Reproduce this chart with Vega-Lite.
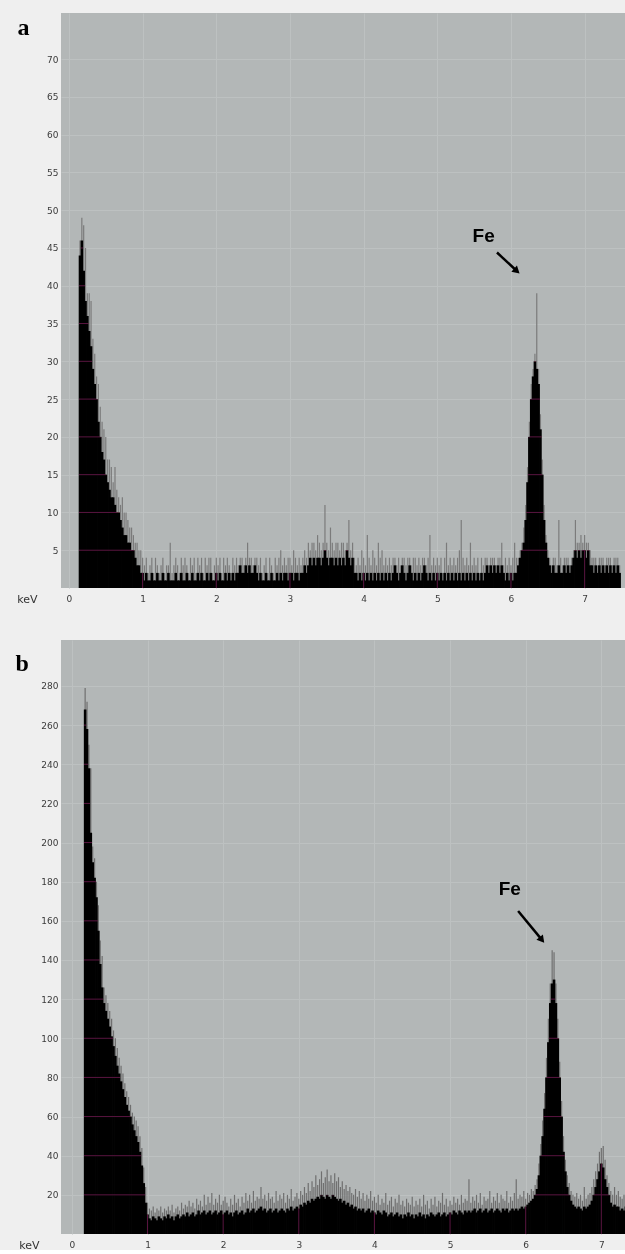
{
"$schema":"https://vega.github.io/schema/vega-lite/v6.json",
"background":"#efefef",
"padding":{"left":15,"top":12,"right":0,"bottom":0},
"autosize":{"type":"pad"},
"spacing":35,
"datasets":{
"spec":[
{"e":0.15,"al":44,"ah":46,"bl":0,"bh":0},
{"e":0.175,"al":46,"ah":49,"bl":268,"bh":279},
{"e":0.2,"al":42,"ah":48,"bl":258,"bh":272},
{"e":0.225,"al":38,"ah":45,"bl":238,"bh":250},
{"e":0.25,"al":36,"ah":39,"bl":205,"bh":238},
{"e":0.275,"al":34,"ah":39,"bl":190,"bh":198},
{"e":0.3,"al":32,"ah":38,"bl":182,"bh":192},
{"e":0.325,"al":29,"ah":33,"bl":172,"bh":180},
{"e":0.35,"al":27,"ah":31,"bl":155,"bh":168},
{"e":0.375,"al":25,"ah":28,"bl":138,"bh":150},
{"e":0.4,"al":22,"ah":27,"bl":126,"bh":142},
{"e":0.425,"al":20,"ah":24,"bl":118,"bh":126},
{"e":0.45,"al":18,"ah":22,"bl":114,"bh":122},
{"e":0.475,"al":17,"ah":21,"bl":110,"bh":118},
{"e":0.5,"al":15,"ah":20,"bl":106,"bh":114},
{"e":0.525,"al":14,"ah":17,"bl":101,"bh":110},
{"e":0.55,"al":13,"ah":17,"bl":96,"bh":104},
{"e":0.575,"al":12,"ah":16,"bl":91,"bh":100},
{"e":0.6,"al":12,"ah":14,"bl":86,"bh":95},
{"e":0.625,"al":11,"ah":16,"bl":82,"bh":90},
{"e":0.65,"al":10,"ah":13,"bl":78,"bh":86},
{"e":0.675,"al":10,"ah":12,"bl":74,"bh":82},
{"e":0.7,"al":9,"ah":11,"bl":70,"bh":77},
{"e":0.725,"al":8,"ah":12,"bl":66,"bh":73},
{"e":0.75,"al":7,"ah":10,"bl":63,"bh":70},
{"e":0.775,"al":7,"ah":10,"bl":60,"bh":66},
{"e":0.8,"al":6,"ah":9,"bl":56,"bh":62},
{"e":0.825,"al":6,"ah":8,"bl":53,"bh":60},
{"e":0.85,"al":5,"ah":8,"bl":50,"bh":58},
{"e":0.875,"al":5,"ah":7,"bl":47,"bh":55},
{"e":0.9,"al":4,"ah":6,"bl":42,"bh":50},
{"e":0.925,"al":3,"ah":6,"bl":35,"bh":44},
{"e":0.95,"al":3,"ah":5,"bl":26,"bh":34},
{"e":0.975,"al":2,"ah":5,"bl":16,"bh":24},
{"e":1.0,"al":2,"ah":4,"bl":10,"bh":16},
{"e":1.025,"al":1,"ah":3,"bl":8,"bh":13},
{"e":1.05,"al":2,"ah":4,"bl":7,"bh":12},
{"e":1.075,"al":1,"ah":2,"bl":9,"bh":14},
{"e":1.1,"al":1,"ah":3,"bl":8,"bh":11},
{"e":1.125,"al":2,"ah":4,"bl":7,"bh":13},
{"e":1.15,"al":1,"ah":2,"bl":9,"bh":12},
{"e":1.175,"al":1,"ah":4,"bl":8,"bh":14},
{"e":1.2,"al":2,"ah":3,"bl":7,"bh":11},
{"e":1.225,"al":1,"ah":2,"bl":9,"bh":13},
{"e":1.25,"al":1,"ah":3,"bl":8,"bh":12},
{"e":1.275,"al":2,"ah":4,"bl":10,"bh":14},
{"e":1.3,"al":1,"ah":2,"bl":8,"bh":12},
{"e":1.325,"al":1,"ah":3,"bl":9,"bh":15},
{"e":1.35,"al":2,"ah":3,"bl":7,"bh":11},
{"e":1.375,"al":1,"ah":6,"bl":9,"bh":13},
{"e":1.4,"al":1,"ah":2,"bl":10,"bh":14},
{"e":1.425,"al":1,"ah":3,"bl":8,"bh":12},
{"e":1.45,"al":2,"ah":4,"bl":9,"bh":16},
{"e":1.475,"al":1,"ah":3,"bl":10,"bh":13},
{"e":1.5,"al":1,"ah":2,"bl":9,"bh":15},
{"e":1.525,"al":2,"ah":4,"bl":11,"bh":14},
{"e":1.55,"al":1,"ah":3,"bl":9,"bh":17},
{"e":1.575,"al":1,"ah":4,"bl":10,"bh":14},
{"e":1.6,"al":2,"ah":3,"bl":11,"bh":16},
{"e":1.625,"al":1,"ah":2,"bl":9,"bh":13},
{"e":1.65,"al":1,"ah":4,"bl":10,"bh":18},
{"e":1.675,"al":2,"ah":3,"bl":12,"bh":15},
{"e":1.7,"al":1,"ah":4,"bl":10,"bh":17},
{"e":1.725,"al":1,"ah":2,"bl":11,"bh":14},
{"e":1.75,"al":2,"ah":4,"bl":12,"bh":20},
{"e":1.775,"al":1,"ah":3,"bl":10,"bh":15},
{"e":1.8,"al":2,"ah":4,"bl":11,"bh":19},
{"e":1.825,"al":1,"ah":2,"bl":12,"bh":16},
{"e":1.85,"al":1,"ah":4,"bl":10,"bh":21},
{"e":1.875,"al":2,"ah":3,"bl":11,"bh":15},
{"e":1.9,"al":1,"ah":4,"bl":12,"bh":18},
{"e":1.925,"al":2,"ah":4,"bl":10,"bh":16},
{"e":1.95,"al":1,"ah":2,"bl":11,"bh":20},
{"e":1.975,"al":1,"ah":3,"bl":12,"bh":15},
{"e":2.0,"al":2,"ah":4,"bl":10,"bh":17},
{"e":2.025,"al":1,"ah":3,"bl":11,"bh":19},
{"e":2.05,"al":2,"ah":4,"bl":12,"bh":16},
{"e":2.075,"al":1,"ah":2,"bl":10,"bh":14},
{"e":2.1,"al":1,"ah":4,"bl":11,"bh":18},
{"e":2.125,"al":2,"ah":3,"bl":9,"bh":15},
{"e":2.15,"al":1,"ah":4,"bl":11,"bh":20},
{"e":2.175,"al":2,"ah":3,"bl":12,"bh":16},
{"e":2.2,"al":1,"ah":2,"bl":10,"bh":18},
{"e":2.225,"al":2,"ah":4,"bl":11,"bh":14},
{"e":2.25,"al":1,"ah":3,"bl":12,"bh":19},
{"e":2.275,"al":2,"ah":4,"bl":10,"bh":16},
{"e":2.3,"al":2,"ah":3,"bl":11,"bh":21},
{"e":2.325,"al":3,"ah":4,"bl":13,"bh":17},
{"e":2.35,"al":2,"ah":4,"bl":11,"bh":20},
{"e":2.375,"al":2,"ah":3,"bl":12,"bh":16},
{"e":2.4,"al":3,"ah":4,"bl":13,"bh":22},
{"e":2.425,"al":2,"ah":6,"bl":11,"bh":17},
{"e":2.45,"al":3,"ah":4,"bl":12,"bh":19},
{"e":2.475,"al":2,"ah":4,"bl":13,"bh":18},
{"e":2.5,"al":2,"ah":3,"bl":14,"bh":24},
{"e":2.525,"al":3,"ah":4,"bl":12,"bh":18},
{"e":2.55,"al":2,"ah":4,"bl":13,"bh":20},
{"e":2.575,"al":1,"ah":3,"bl":11,"bh":17},
{"e":2.6,"al":2,"ah":4,"bl":12,"bh":21},
{"e":2.625,"al":1,"ah":2,"bl":13,"bh":18},
{"e":2.65,"al":1,"ah":3,"bl":11,"bh":19},
{"e":2.675,"al":2,"ah":4,"bl":12,"bh":16},
{"e":2.7,"al":1,"ah":2,"bl":13,"bh":22},
{"e":2.725,"al":1,"ah":4,"bl":11,"bh":17},
{"e":2.75,"al":2,"ah":3,"bl":12,"bh":20},
{"e":2.775,"al":1,"ah":2,"bl":13,"bh":18},
{"e":2.8,"al":1,"ah":4,"bl":12,"bh":21},
{"e":2.825,"al":2,"ah":3,"bl":11,"bh":16},
{"e":2.85,"al":1,"ah":4,"bl":13,"bh":20},
{"e":2.875,"al":2,"ah":5,"bl":12,"bh":18},
{"e":2.9,"al":1,"ah":3,"bl":14,"bh":23},
{"e":2.925,"al":2,"ah":4,"bl":12,"bh":17},
{"e":2.95,"al":2,"ah":3,"bl":13,"bh":19},
{"e":2.975,"al":1,"ah":4,"bl":14,"bh":21},
{"e":3.0,"al":2,"ah":4,"bl":13,"bh":18},
{"e":3.025,"al":2,"ah":3,"bl":15,"bh":22},
{"e":3.05,"al":1,"ah":5,"bl":14,"bh":20},
{"e":3.075,"al":2,"ah":4,"bl":16,"bh":24},
{"e":3.1,"al":2,"ah":3,"bl":15,"bh":21},
{"e":3.125,"al":1,"ah":4,"bl":17,"bh":26},
{"e":3.15,"al":2,"ah":3,"bl":16,"bh":22},
{"e":3.175,"al":2,"ah":4,"bl":18,"bh":27},
{"e":3.2,"al":3,"ah":5,"bl":17,"bh":24},
{"e":3.225,"al":2,"ah":4,"bl":18,"bh":30},
{"e":3.25,"al":3,"ah":6,"bl":19,"bh":25},
{"e":3.275,"al":4,"ah":5,"bl":18,"bh":28},
{"e":3.3,"al":3,"ah":6,"bl":20,"bh":32},
{"e":3.325,"al":4,"ah":6,"bl":19,"bh":26},
{"e":3.35,"al":3,"ah":5,"bl":18,"bh":29},
{"e":3.375,"al":4,"ah":7,"bl":20,"bh":33},
{"e":3.4,"al":4,"ah":6,"bl":19,"bh":27},
{"e":3.425,"al":3,"ah":5,"bl":18,"bh":30},
{"e":3.45,"al":4,"ah":6,"bl":20,"bh":26},
{"e":3.475,"al":5,"ah":11,"bl":19,"bh":31},
{"e":3.5,"al":4,"ah":6,"bl":18,"bh":27},
{"e":3.525,"al":3,"ah":5,"bl":17,"bh":29},
{"e":3.55,"al":4,"ah":8,"bl":18,"bh":24},
{"e":3.575,"al":4,"ah":6,"bl":16,"bh":27},
{"e":3.6,"al":3,"ah":5,"bl":17,"bh":23},
{"e":3.625,"al":4,"ah":6,"bl":15,"bh":25},
{"e":3.65,"al":3,"ah":6,"bl":16,"bh":22},
{"e":3.675,"al":4,"ah":5,"bl":14,"bh":24},
{"e":3.7,"al":3,"ah":6,"bl":15,"bh":21},
{"e":3.725,"al":4,"ah":6,"bl":13,"bh":20},
{"e":3.75,"al":3,"ah":5,"bl":14,"bh":23},
{"e":3.775,"al":5,"ah":6,"bl":12,"bh":19},
{"e":3.8,"al":4,"ah":9,"bl":13,"bh":22},
{"e":3.825,"al":3,"ah":5,"bl":12,"bh":18},
{"e":3.85,"al":4,"ah":6,"bl":13,"bh":21},
{"e":3.875,"al":2,"ah":4,"bl":11,"bh":17},
{"e":3.9,"al":2,"ah":3,"bl":12,"bh":20},
{"e":3.925,"al":1,"ah":4,"bl":13,"bh":18},
{"e":3.95,"al":2,"ah":3,"bl":11,"bh":22},
{"e":3.975,"al":1,"ah":5,"bl":12,"bh":17},
{"e":4.0,"al":2,"ah":4,"bl":11,"bh":19},
{"e":4.025,"al":1,"ah":3,"bl":10,"bh":16},
{"e":4.05,"al":2,"ah":7,"bl":12,"bh":20},
{"e":4.075,"al":1,"ah":4,"bl":11,"bh":15},
{"e":4.1,"al":2,"ah":3,"bl":10,"bh":18},
{"e":4.125,"al":1,"ah":5,"bl":12,"bh":16},
{"e":4.15,"al":2,"ah":4,"bl":11,"bh":21},
{"e":4.175,"al":1,"ah":3,"bl":9,"bh":15},
{"e":4.2,"al":2,"ah":6,"bl":10,"bh":17},
{"e":4.225,"al":1,"ah":4,"bl":11,"bh":19},
{"e":4.25,"al":2,"ah":5,"bl":9,"bh":14},
{"e":4.275,"al":1,"ah":3,"bl":10,"bh":18},
{"e":4.3,"al":2,"ah":4,"bl":11,"bh":16},
{"e":4.325,"al":1,"ah":3,"bl":9,"bh":20},
{"e":4.35,"al":2,"ah":4,"bl":10,"bh":15},
{"e":4.375,"al":1,"ah":3,"bl":8,"bh":17},
{"e":4.4,"al":2,"ah":4,"bl":10,"bh":14},
{"e":4.425,"al":3,"ah":4,"bl":9,"bh":18},
{"e":4.45,"al":2,"ah":3,"bl":11,"bh":16},
{"e":4.475,"al":1,"ah":4,"bl":9,"bh":15},
{"e":4.5,"al":2,"ah":3,"bl":10,"bh":19},
{"e":4.525,"al":3,"ah":4,"bl":8,"bh":14},
{"e":4.55,"al":2,"ah":4,"bl":10,"bh":17},
{"e":4.575,"al":1,"ah":3,"bl":9,"bh":15},
{"e":4.6,"al":2,"ah":4,"bl":11,"bh":18},
{"e":4.625,"al":3,"ah":4,"bl":9,"bh":14},
{"e":4.65,"al":2,"ah":3,"bl":10,"bh":20},
{"e":4.675,"al":1,"ah":4,"bl":8,"bh":15},
{"e":4.7,"al":2,"ah":4,"bl":10,"bh":17},
{"e":4.725,"al":1,"ah":3,"bl":9,"bh":13},
{"e":4.75,"al":2,"ah":4,"bl":11,"bh":18},
{"e":4.775,"al":1,"ah":3,"bl":10,"bh":15},
{"e":4.8,"al":2,"ah":4,"bl":9,"bh":19},
{"e":4.825,"al":3,"ah":4,"bl":10,"bh":14},
{"e":4.85,"al":2,"ah":3,"bl":11,"bh":17},
{"e":4.875,"al":1,"ah":4,"bl":9,"bh":16},
{"e":4.9,"al":2,"ah":7,"bl":10,"bh":21},
{"e":4.925,"al":1,"ah":3,"bl":11,"bh":15},
{"e":4.95,"al":2,"ah":4,"bl":9,"bh":18},
{"e":4.975,"al":1,"ah":3,"bl":10,"bh":14},
{"e":5.0,"al":2,"ah":4,"bl":11,"bh":17},
{"e":5.025,"al":1,"ah":3,"bl":10,"bh":15},
{"e":5.05,"al":2,"ah":4,"bl":12,"bh":19},
{"e":5.075,"al":1,"ah":2,"bl":11,"bh":16},
{"e":5.1,"al":2,"ah":4,"bl":10,"bh":18},
{"e":5.125,"al":1,"ah":6,"bl":12,"bh":15},
{"e":5.15,"al":2,"ah":3,"bl":11,"bh":20},
{"e":5.175,"al":1,"ah":4,"bl":10,"bh":16},
{"e":5.2,"al":2,"ah":3,"bl":12,"bh":18},
{"e":5.225,"al":1,"ah":4,"bl":11,"bh":17},
{"e":5.25,"al":2,"ah":3,"bl":12,"bh":28},
{"e":5.275,"al":1,"ah":4,"bl":11,"bh":16},
{"e":5.3,"al":2,"ah":5,"bl":12,"bh":19},
{"e":5.325,"al":1,"ah":9,"bl":13,"bh":17},
{"e":5.35,"al":2,"ah":4,"bl":11,"bh":20},
{"e":5.375,"al":1,"ah":3,"bl":12,"bh":16},
{"e":5.4,"al":2,"ah":4,"bl":13,"bh":21},
{"e":5.425,"al":1,"ah":3,"bl":11,"bh":15},
{"e":5.45,"al":2,"ah":6,"bl":12,"bh":19},
{"e":5.475,"al":1,"ah":3,"bl":13,"bh":17},
{"e":5.5,"al":2,"ah":4,"bl":11,"bh":18},
{"e":5.525,"al":1,"ah":3,"bl":12,"bh":22},
{"e":5.55,"al":2,"ah":4,"bl":13,"bh":16},
{"e":5.575,"al":1,"ah":2,"bl":11,"bh":19},
{"e":5.6,"al":2,"ah":4,"bl":12,"bh":17},
{"e":5.625,"al":1,"ah":3,"bl":13,"bh":21},
{"e":5.65,"al":2,"ah":4,"bl":12,"bh":16},
{"e":5.675,"al":3,"ah":4,"bl":11,"bh":20},
{"e":5.7,"al":2,"ah":3,"bl":13,"bh":18},
{"e":5.725,"al":3,"ah":4,"bl":12,"bh":17},
{"e":5.75,"al":2,"ah":4,"bl":13,"bh":22},
{"e":5.775,"al":3,"ah":4,"bl":11,"bh":16},
{"e":5.8,"al":2,"ah":3,"bl":12,"bh":19},
{"e":5.825,"al":3,"ah":4,"bl":13,"bh":17},
{"e":5.85,"al":2,"ah":4,"bl":12,"bh":21},
{"e":5.875,"al":3,"ah":6,"bl":13,"bh":28},
{"e":5.9,"al":2,"ah":3,"bl":12,"bh":18},
{"e":5.925,"al":1,"ah":4,"bl":13,"bh":20},
{"e":5.95,"al":2,"ah":3,"bl":14,"bh":19},
{"e":5.975,"al":1,"ah":4,"bl":13,"bh":22},
{"e":6.0,"al":2,"ah":3,"bl":14,"bh":18},
{"e":6.025,"al":1,"ah":4,"bl":15,"bh":21},
{"e":6.05,"al":2,"ah":6,"bl":16,"bh":20},
{"e":6.075,"al":2,"ah":4,"bl":17,"bh":23},
{"e":6.1,"al":3,"ah":4,"bl":18,"bh":22},
{"e":6.125,"al":4,"ah":5,"bl":20,"bh":25},
{"e":6.15,"al":5,"ah":6,"bl":23,"bh":28},
{"e":6.175,"al":6,"ah":8,"bl":30,"bh":36},
{"e":6.2,"al":9,"ah":11,"bl":40,"bh":46},
{"e":6.225,"al":14,"ah":16,"bl":50,"bh":58},
{"e":6.25,"al":20,"ah":22,"bl":64,"bh":72},
{"e":6.275,"al":25,"ah":27,"bl":80,"bh":90},
{"e":6.3,"al":28,"ah":29,"bl":98,"bh":110},
{"e":6.325,"al":30,"ah":31,"bl":118,"bh":128},
{"e":6.35,"al":29,"ah":39,"bl":128,"bh":145},
{"e":6.375,"al":27,"ah":29,"bl":130,"bh":144},
{"e":6.4,"al":21,"ah":23,"bl":118,"bh":128},
{"e":6.425,"al":15,"ah":17,"bl":100,"bh":110},
{"e":6.45,"al":9,"ah":11,"bl":80,"bh":88},
{"e":6.475,"al":6,"ah":7,"bl":60,"bh":68},
{"e":6.5,"al":4,"ah":5,"bl":42,"bh":50},
{"e":6.525,"al":3,"ah":4,"bl":32,"bh":38},
{"e":6.55,"al":2,"ah":3,"bl":24,"bh":30},
{"e":6.575,"al":3,"ah":4,"bl":20,"bh":26},
{"e":6.6,"al":2,"ah":4,"bl":17,"bh":22},
{"e":6.625,"al":2,"ah":3,"bl":15,"bh":20},
{"e":6.65,"al":3,"ah":9,"bl":14,"bh":19},
{"e":6.675,"al":2,"ah":4,"bl":13,"bh":21},
{"e":6.7,"al":2,"ah":3,"bl":14,"bh":18},
{"e":6.725,"al":3,"ah":4,"bl":13,"bh":20},
{"e":6.75,"al":2,"ah":4,"bl":12,"bh":17},
{"e":6.775,"al":3,"ah":4,"bl":14,"bh":24},
{"e":6.8,"al":2,"ah":3,"bl":13,"bh":18},
{"e":6.825,"al":3,"ah":4,"bl":14,"bh":20},
{"e":6.85,"al":4,"ah":5,"bl":15,"bh":21},
{"e":6.875,"al":5,"ah":9,"bl":17,"bh":24},
{"e":6.9,"al":4,"ah":6,"bl":20,"bh":28},
{"e":6.925,"al":5,"ah":6,"bl":24,"bh":32},
{"e":6.95,"al":4,"ah":7,"bl":28,"bh":36},
{"e":6.975,"al":5,"ah":6,"bl":32,"bh":42},
{"e":7.0,"al":5,"ah":7,"bl":36,"bh":44},
{"e":7.025,"al":4,"ah":6,"bl":34,"bh":45},
{"e":7.05,"al":5,"ah":6,"bl":28,"bh":38},
{"e":7.075,"al":3,"ah":5,"bl":24,"bh":30},
{"e":7.1,"al":3,"ah":4,"bl":20,"bh":26},
{"e":7.125,"al":2,"ah":4,"bl":16,"bh":22},
{"e":7.15,"al":3,"ah":4,"bl":14,"bh":20},
{"e":7.175,"al":2,"ah":3,"bl":15,"bh":24},
{"e":7.2,"al":3,"ah":4,"bl":14,"bh":20},
{"e":7.225,"al":2,"ah":4,"bl":14,"bh":22},
{"e":7.25,"al":3,"ah":4,"bl":12,"bh":19},
{"e":7.275,"al":2,"ah":3,"bl":13,"bh":18},
{"e":7.3,"al":3,"ah":4,"bl":12,"bh":20},
{"e":7.325,"al":2,"ah":4,"bl":14,"bh":19},
{"e":7.35,"al":3,"ah":4,"bl":13,"bh":21},
{"e":7.375,"al":2,"ah":3,"bl":12,"bh":17},
{"e":7.4,"al":3,"ah":4,"bl":13,"bh":19},
{"e":7.425,"al":2,"ah":4,"bl":14,"bh":22},
{"e":7.45,"al":3,"ah":4,"bl":12,"bh":18},
{"e":7.475,"al":2,"ah":3,"bl":13,"bh":20}
],
"xgrid":[{"g":1},{"g":2},{"g":3},{"g":4},{"g":5},{"g":6},{"g":7}],
"ygridA":[{"g":5},{"g":10},{"g":15},{"g":20},{"g":25},{"g":30},{"g":35},{"g":40},{"g":45},{"g":50},{"g":55},{"g":60},{"g":65},{"g":70}],
"ygridB":[{"g":20},{"g":40},{"g":60},{"g":80},{"g":100},{"g":120},{"g":140},{"g":160},{"g":180},{"g":200},{"g":220},{"g":240},{"g":260},{"g":280}]
},
"vconcat":[
{
"width":564,"height":575,
"layer":[
{"data":{"name":"spec"},"mark":{"type":"bar","color":"#7b7b7b","size":1.2,"clip":true},
 "encoding":{
  "x":{"field":"e","type":"quantitative","scale":{"domain":[-0.04,7.48],"nice":false,"zero":false},
   "axis":{"values":[0,1,2,3,4,5,6,7],"format":"d","title":"keV","titleX":-34,"titleY":5,"titleAlign":"center","titleBaseline":"top","titleFont":"DejaVu Sans","titleFontSize":11,"titleFontWeight":"normal","titleColor":"#333333","labelPadding":6}},
  "y":{"field":"ah","type":"quantitative","scale":{"domain":[0,76.1],"nice":false},
   "axis":{"values":[5,10,15,20,25,30,35,40,45,50,55,60,65,70],"title":"a","titleAngle":0,"titleX":-44,"titleY":21,"titleAlign":"left","titleBaseline":"alphabetic","titleFont":"Liberation Serif","titleFontSize":24,"titleFontWeight":"bold","titleColor":"#000000","labelPadding":3}}
 }},
{"data":{"name":"spec"},"mark":{"type":"bar","color":"#000000","size":2.6,"clip":true},
 "encoding":{"x":{"field":"e","type":"quantitative"},"y":{"field":"al","type":"quantitative"}}},
{"data":{"name":"xgrid"},"mark":{"type":"rule","color":"#5a1540","strokeWidth":1,"blend":"lighten"},
 "encoding":{"x":{"field":"g","type":"quantitative"}}},
{"data":{"name":"ygridA"},"mark":{"type":"rule","color":"#5a1540","strokeWidth":1,"blend":"lighten"},
 "encoding":{"y":{"field":"g","type":"quantitative"}}},
{"data":{"values":[{"e":5.63,"v":46.6,"t":"Fe"}]},"mark":{"type":"text","font":"Liberation Sans","fontSize":19,"fontWeight":"bold","color":"#000000","align":"center","baseline":"middle"},
 "encoding":{"x":{"field":"e","type":"quantitative"},"y":{"field":"v","type":"quantitative"},"text":{"field":"t"}}},
{"data":{"values":[{"e":5.81,"v":44.4,"e2":6.08,"v2":41.95}]},"mark":{"type":"rule","color":"#000000","strokeWidth":2.5},
 "encoding":{"x":{"field":"e","type":"quantitative"},"y":{"field":"v","type":"quantitative"},"x2":{"field":"e2"},"y2":{"field":"v2"}}},
{"data":{"values":[{"e":6.08,"v":41.95}]},"mark":{"type":"point","shape":"triangle-up","filled":true,"color":"#000000","size":70,"opacity":1},
 "encoding":{"x":{"field":"e","type":"quantitative"},"y":{"field":"v","type":"quantitative"},"angle":{"value":132}}}
]
},
{
"width":564,"height":594,
"layer":[
{"data":{"name":"spec"},"mark":{"type":"bar","color":"#6f6f6f","size":1.2,"clip":true},
 "encoding":{
  "x":{"field":"e","type":"quantitative","scale":{"domain":[-0.078,7.247],"nice":false,"zero":false},
   "axis":{"values":[0,1,2,3,4,5,6,7],"format":"d","title":"keV","titleX":-32,"titleY":5,"titleAlign":"center","titleBaseline":"top","titleFont":"DejaVu Sans","titleFontSize":11,"titleFontWeight":"normal","titleColor":"#333333","labelPadding":6}},
  "y":{"field":"bh","type":"quantitative","scale":{"domain":[0,303.5],"nice":false},
   "axis":{"values":[20,40,60,80,100,120,140,160,180,200,220,240,260,280],"title":"b","titleAngle":0,"titleX":-46,"titleY":30,"titleAlign":"left","titleBaseline":"alphabetic","titleFont":"Liberation Serif","titleFontSize":24,"titleFontWeight":"bold","titleColor":"#000000","labelPadding":3}}
 }},
{"data":{"name":"spec"},"mark":{"type":"bar","color":"#000000","size":2.6,"clip":true},
 "encoding":{"x":{"field":"e","type":"quantitative"},"y":{"field":"bl","type":"quantitative"}}},
{"data":{"name":"xgrid"},"mark":{"type":"rule","color":"#5a1540","strokeWidth":1,"blend":"lighten"},
 "encoding":{"x":{"field":"g","type":"quantitative"}}},
{"data":{"name":"ygridB"},"mark":{"type":"rule","color":"#5a1540","strokeWidth":1,"blend":"lighten"},
 "encoding":{"y":{"field":"g","type":"quantitative"}}},
{"data":{"values":[{"e":5.79,"v":176.5,"t":"Fe"}]},"mark":{"type":"text","font":"Liberation Sans","fontSize":19,"fontWeight":"bold","color":"#000000","align":"center","baseline":"middle"},
 "encoding":{"x":{"field":"e","type":"quantitative"},"y":{"field":"v","type":"quantitative"},"text":{"field":"t"}}},
{"data":{"values":[{"e":5.9,"v":165,"e2":6.215,"v2":150.3}]},"mark":{"type":"rule","color":"#000000","strokeWidth":2.5},
 "encoding":{"x":{"field":"e","type":"quantitative"},"y":{"field":"v","type":"quantitative"},"x2":{"field":"e2"},"y2":{"field":"v2"}}},
{"data":{"values":[{"e":6.215,"v":150.3}]},"mark":{"type":"point","shape":"triangle-up","filled":true,"color":"#000000","size":70,"opacity":1},
 "encoding":{"x":{"field":"e","type":"quantitative"},"y":{"field":"v","type":"quantitative"},"angle":{"value":141}}}
]
}
],
"config":{
 "view":{"stroke":null,"fill":"#b3b7b7"},
 "axis":{"domain":false,"ticks":false,"labelFont":"DejaVu Sans","labelFontSize":9,"labelColor":"#3a3a3a","gridColor":"#bdc1c1","gridWidth":1,"grid":true}
}
}
